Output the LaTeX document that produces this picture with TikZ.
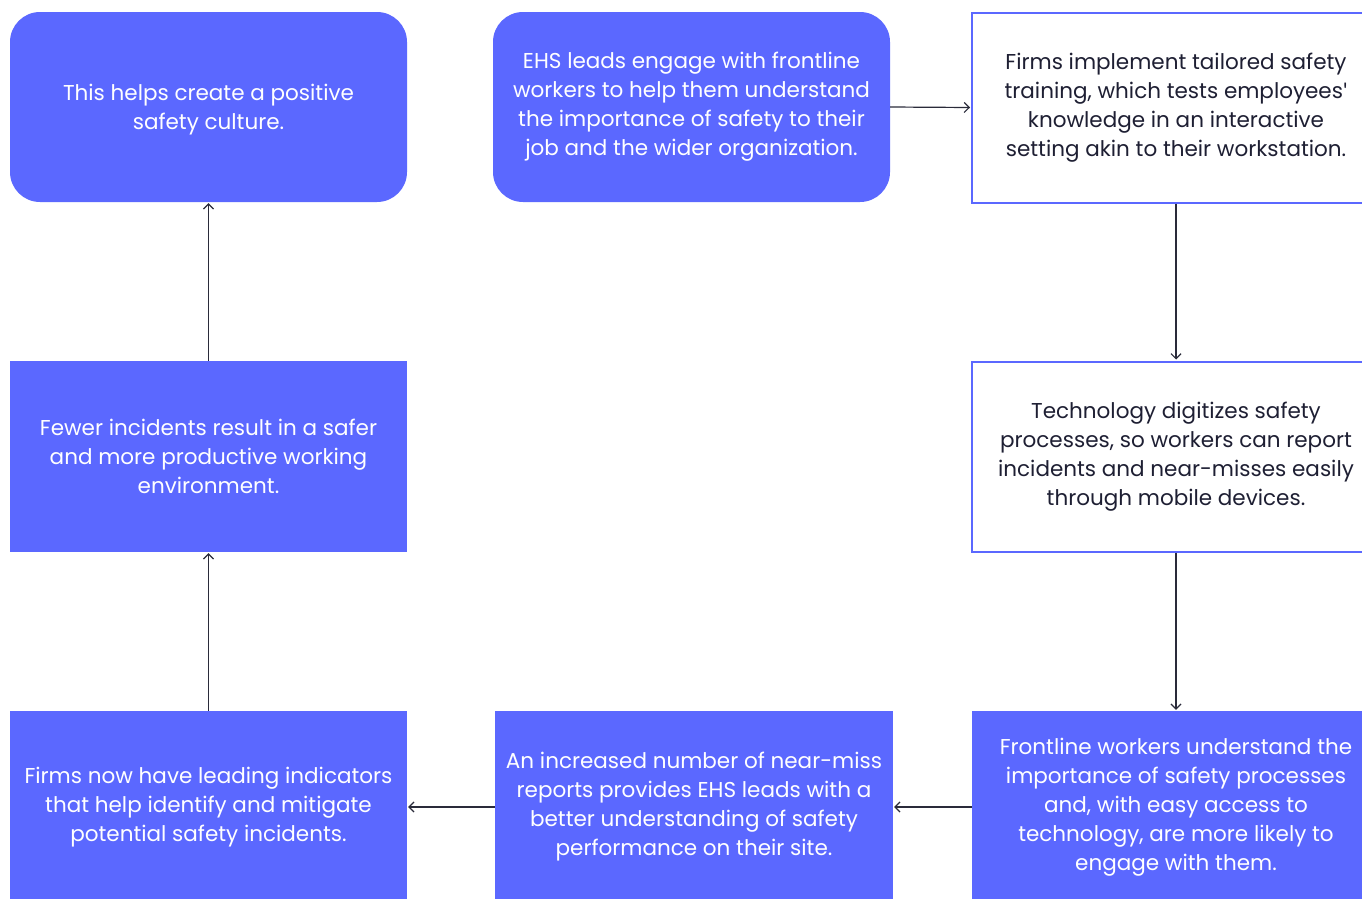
\documentclass[tikz,border=0pt]{standalone}
\usepackage{fontspec}
\setmainfont{Poppins}
\newfontfamily\quotefont{Lato}
\usetikzlibrary{arrows.meta}
\definecolor{boxblue}{HTML}{5B68FF}
\definecolor{inkdark}{HTML}{1E1F33}
\definecolor{arrowink}{HTML}{2A2B3A}
\tikzset{
  base/.style={rectangle, inner sep=0pt, align=center,
    font=\fontsize{21.5}{29}\selectfont},
  filled/.style={base, fill=boxblue, draw=none, text=white},
  roundfilled/.style={filled, rounded corners=30pt},
  outlined/.style={base, fill=white, draw=boxblue, line width=2pt, text=inkdark},
  arr/.style={draw=arrowink, line width=1.2pt, shorten >=1pt,
    -{Straight Barb[length=5pt,width=10pt,line width=1.2pt]}}
}
\begin{document}
\begin{tikzpicture}[x=1pt,y=1pt]
\useasboundingbox (0,0) rectangle (1362,-898);
\clip (0,0) rectangle (1362,-898);
\node[roundfilled, minimum width=397pt, minimum height=190pt, text depth=-4pt] (A) at (208.5,-107)
  {This helps create a positive\\safety culture.};
\node[roundfilled, minimum width=397pt, minimum height=190pt] (B) at (691.5,-107)
  {EHS leads engage with frontline\\workers to help them understand\\the importance of safety to their\\job and the wider organization.};
\node[outlined, minimum width=408pt, minimum height=190pt] (C) at (1176,-107.5)
  {Firms implement tailored safety\\training, which tests employees{\quotefont\char39}\\knowledge in an interactive\\setting akin to their workstation.};
\node[outlined, minimum width=408pt, minimum height=190pt] (D) at (1176,-456.5)
  {Technology digitizes safety\\processes, so workers can report\\incidents and near-misses easily\\through mobile devices.};
\node[filled, minimum width=408pt, minimum height=192pt] (E) at (1176,-807)
  {Frontline workers understand the\\importance of safety processes\\and, with easy access to\\technology, are more likely to\\engage with them.};
\node[filled, minimum width=398pt, minimum height=192pt] (F) at (694,-807)
  {An increased number of near-miss\\reports provides EHS leads with a\\better understanding of safety\\performance on their site.};
\node[filled, minimum width=397pt, minimum height=192pt] (G) at (208.5,-807)
  {Firms now have leading indicators\\that help identify and mitigate\\potential safety incidents.};
\node[filled, minimum width=397pt, minimum height=191pt] (H) at (208.5,-456.5)
  {Fewer incidents result in a safer\\and more productive working\\environment.};
\draw[arr] (B.east) -- (C.west);
\draw[arr] (C.south) -- (D.north);
\draw[arr] (D.south) -- (E.north);
\draw[arr] (E.west) -- (F.east);
\draw[arr] (F.west) -- (G.east);
\draw[arr] (G.north) -- (H.south);
\draw[arr] (H.north) -- (A.south);
\end{tikzpicture}
\end{document}
